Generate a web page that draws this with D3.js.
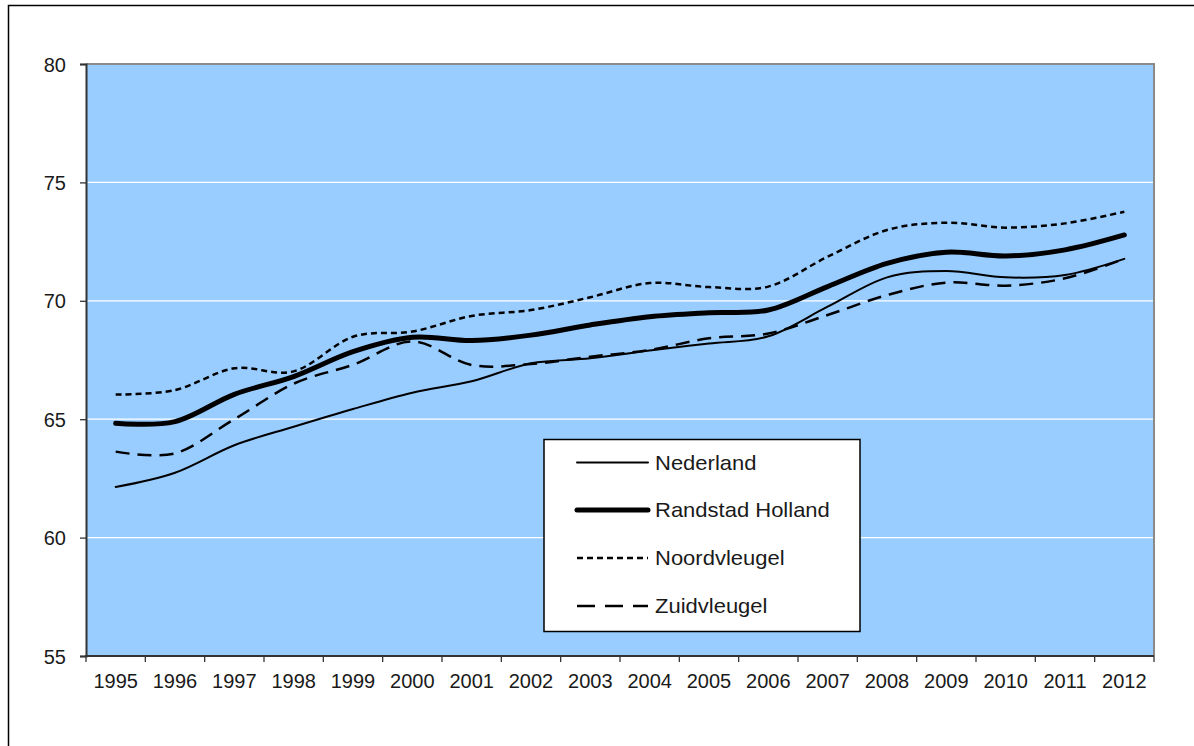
<!DOCTYPE html>
<html>
<head>
<meta charset="utf-8">
<script src="https://cdn.jsdelivr.net/npm/d3@7"></script>
<style>
  html, body { margin: 0; padding: 0; background: #fff; }
  svg { display: block; }
  text { font-family: "Liberation Sans", Arial, sans-serif; fill: #1a1a1a; }
</style>
</head>
<body>
<svg id="chart" width="1194" height="746"></svg>
<script>
const years = ["1995","1996","1997","1998","1999","2000","2001","2002","2003","2004","2005","2006","2007","2008","2009","2010","2011","2012"];
const nederland = [62.14, 62.74, 63.9, 64.68, 65.43, 66.12, 66.6, 67.36, 67.57, 67.9, 68.2, 68.5, 69.75, 70.99, 71.26, 70.99, 71.09, 71.77];
const randstad = [64.83, 64.9, 66.05, 66.8, 67.85, 68.46, 68.32, 68.55, 68.98, 69.33, 69.5, 69.61, 70.6, 71.58, 72.05, 71.89, 72.15, 72.78];
const noordvleugel = [66.04, 66.23, 67.15, 67.02, 68.48, 68.7, 69.36, 69.61, 70.15, 70.75, 70.58, 70.6, 71.86, 72.99, 73.3, 73.09, 73.27, 73.76];
const zuidvleugel = [63.63, 63.56, 65.0, 66.5, 67.3, 68.28, 67.29, 67.33, 67.64, 67.92, 68.42, 68.62, 69.4, 70.24, 70.77, 70.64, 70.95, 71.77];
const yTicks = [55, 60, 65, 70, 75, 80];
const seriesNames = ["Nederland", "Randstad Holland", "Noordvleugel", "Zuidvleugel"];

const svg = d3.select("#chart");
const L = 86, R = 1154, T = 64, B = 656;

// outer border
svg.append("rect").attr("x", 8.5).attr("y", 5.5).attr("width", 1300).attr("height", 1000)
  .attr("fill", "#fff").attr("stroke", "#000").attr("stroke-width", 1.5);

const x = d3.scaleBand().domain(years).range([L, R]).paddingInner(0).paddingOuter(0);
const y = d3.scaleLinear().domain([55, 80]).range([B, T]);
const cx = d => x(d) + x.bandwidth() / 2;

// plot background
svg.append("rect").attr("x", L).attr("y", T).attr("width", R - L).attr("height", B - T)
  .attr("fill", "#99CCFF");

// gridlines
svg.append("g").selectAll("line").data(yTicks.filter(v => v > 55 && v < 80)).join("line")
  .attr("x1", L).attr("x2", R).attr("y1", d => y(d)).attr("y2", d => y(d))
  .attr("stroke", "#fff").attr("stroke-width", 1.2);

// plot border top/right
svg.append("path").attr("d", `M${L},${T}H${R}V${B}`).attr("fill", "none")
  .attr("stroke", "#8a8a8a").attr("stroke-width", 2);

// y axis
const yAxis = svg.append("g").attr("transform", `translate(${L},0)`)
  .call(d3.axisLeft(y).tickValues(yTicks).tickSize(6).tickPadding(14));
yAxis.select(".domain").attr("stroke", "#333").attr("stroke-width", 2);
yAxis.selectAll(".tick line").attr("stroke", "#333").attr("stroke-width", 1.3);
yAxis.selectAll(".tick text").style("font-size", "20px").attr("fill", "#1a1a1a")
  .attr("font-family", "Liberation Sans, Arial, sans-serif").attr("dy", "0.35em").attr("x", -20);

// x axis
const xAxis = svg.append("g").attr("transform", `translate(0,${B})`)
  .call(d3.axisBottom(x).tickSize(0).tickPadding(0));
xAxis.select(".domain").remove();
xAxis.selectAll(".tick text").style("font-size", "20px").attr("fill", "#1a1a1a")
  .attr("font-family", "Liberation Sans, Arial, sans-serif").attr("dy", 0).attr("y", 32);
svg.append("line").attr("x1", L - 1).attr("x2", R).attr("y1", B).attr("y2", B)
  .attr("stroke", "#333").attr("stroke-width", 2);
const boundaries = years.map(d => x(d)).concat([R]);
svg.append("g").selectAll("line").data(boundaries).join("line")
  .attr("x1", d => d).attr("x2", d => d).attr("y1", B).attr("y2", B + 6)
  .attr("stroke", "#333").attr("stroke-width", 1.3);

// lines
const styles = [
  { data: nederland, width: 2, dash: null, legendDash: null },
  { data: randstad, width: 5, dash: null, legendDash: null },
  { data: noordvleugel, width: 2.5, dash: "6,4", legendDash: "6,4" },
  { data: zuidvleugel, width: 2.5, dash: "14,8", legendDash: "18,10" }
];
const line = d3.line().x((d, i) => cx(years[i])).y(d => y(d)).curve(d3.curveCardinal.tension(0));
styles.forEach(s => {
  svg.append("path").datum(s.data).attr("d", line).attr("fill", "none")
    .attr("stroke", "#000").attr("stroke-width", s.width)
    .attr("stroke-dasharray", s.dash).attr("stroke-linecap", s.dash ? "butt" : "round")
    .attr("stroke-linejoin", "round");
});

// legend
const lg = svg.append("g");
lg.append("rect").attr("x", 544).attr("y", 439.5).attr("width", 316).attr("height", 192)
  .attr("fill", "#fff").attr("stroke", "#000").attr("stroke-width", 1.5);
const rowsY = [462.5, 510, 558, 606];
seriesNames.forEach((name, i) => {
  const s = styles[i];
  lg.append("line").attr("x1", 577).attr("x2", 648).attr("y1", rowsY[i]).attr("y2", rowsY[i])
    .attr("stroke", "#000").attr("stroke-width", s.width)
    .attr("stroke-dasharray", s.legendDash).attr("stroke-linecap", s.legendDash ? "butt" : "round");
  lg.append("text").attr("transform", `translate(655,${rowsY[i] + 7}) scale(1.1,1)`)
    .style("font-size", "20px").text(name);
});
</script>
</body>
</html>
